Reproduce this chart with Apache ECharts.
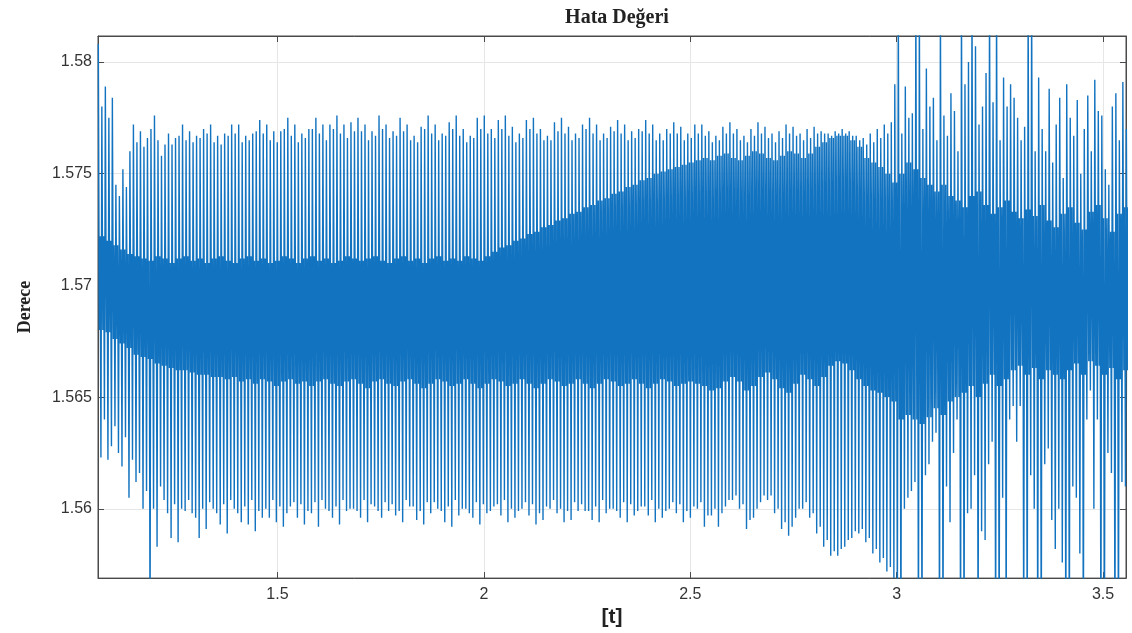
<!DOCTYPE html>
<html lang="tr">
<head>
<meta charset="utf-8"/>
<title>Hata Değeri</title>
<script src="https://cdn.jsdelivr.net/npm/echarts@6/dist/echarts.min.js"></script>
<style>
    html, body { margin: 0; padding: 0; background: #fff; }
    #main { width: 1132px; height: 633px; }
</style>
</head>
<body>
<div id="main"></div>
<script>
// one entry per oscillation cycle
var cycleT = [
    1.066,1.083,1.100,1.117,1.134,1.151,1.168,1.185,1.202,1.219,
    1.236,1.253,1.270,1.287,1.304,1.321,1.338,1.355,1.372,1.389,
    1.406,1.423,1.440,1.457,1.474,1.491,1.508,1.525,1.542,1.559,
    1.576,1.593,1.610,1.627,1.644,1.661,1.678,1.695,1.712,1.729,
    1.746,1.763,1.780,1.797,1.814,1.831,1.848,1.865,1.882,1.899,
    1.916,1.933,1.950,1.967,1.984,2.001,2.018,2.035,2.052,2.069,
    2.086,2.103,2.120,2.137,2.154,2.171,2.188,2.205,2.222,2.239,
    2.256,2.273,2.290,2.307,2.324,2.341,2.358,2.375,2.392,2.409,
    2.426,2.443,2.460,2.477,2.494,2.511,2.528,2.545,2.562,2.579,
    2.596,2.613,2.630,2.647,2.664,2.681,2.698,2.715,2.732,2.749,
    2.766,2.783,2.800,2.817,2.834,2.851,2.868,2.885,2.902,2.919,
    2.936,2.953,2.970,2.987,3.004,3.021,3.038,3.055,3.072,3.089,
    3.106,3.123,3.140,3.157,3.174,3.191,3.208,3.225,3.242,3.259,
    3.276,3.293,3.310,3.327,3.344,3.361,3.378,3.395,3.412,3.429,
    3.446,3.463,3.480,3.497,3.514,3.531,3.548
];
// main (taller) peak of each cycle
var peakVal = [
    1.5808,1.5789,1.5784,1.5740,1.5744,1.5772,1.5769,1.5766,1.5776,1.5758,
    1.5768,1.5766,1.5772,1.5769,1.5767,1.5770,1.5772,1.5767,1.5768,1.5772,
    1.5772,1.5767,1.5768,1.5774,1.5772,1.5769,1.5769,1.5775,1.5772,1.5768,
    1.5770,1.5775,1.5772,1.5772,1.5776,1.5772,1.5773,1.5775,1.5772,1.5769,
    1.5776,1.5772,1.5769,1.5775,1.5772,1.5767,1.5771,1.5776,1.5772,1.5768,
    1.5773,1.5776,1.5770,1.5767,1.5775,1.5776,1.5770,1.5774,1.5776,1.5771,
    1.5768,1.5774,1.5775,1.5770,1.5767,1.5773,1.5775,1.5771,1.5768,1.5772,
    1.5775,1.5772,1.5768,1.5771,1.5774,1.5772,1.5769,1.5770,1.5774,1.5772,
    1.5768,1.5770,1.5773,1.5771,1.5768,1.5772,1.5772,1.5769,1.5767,1.5771,
    1.5773,1.5770,1.5767,1.5770,1.5773,1.5771,1.5768,1.5769,1.5772,1.5771,
    1.5768,1.5770,1.5771,1.5769,1.5768,1.5769,1.5770,1.5769,1.5767,1.5766,
    1.5768,1.5770,1.5772,1.5773,1.5830,1.5789,1.5777,1.5830,1.5797,1.5784,
    1.5830,1.5767,1.5778,1.5830,1.5800,1.5807,1.5780,1.5830,1.5830,1.5793,
    1.5790,1.5775,1.5771,1.5830,1.5793,1.5760,1.5755,1.5784,1.5790,1.5767,
    1.5750,1.5785,1.5792,1.5776,1.5745,1.5786,1.5791
];
// second, usually lower peak half a cycle later
var peak2Val = [
    1.5780,1.5775,1.5745,1.5752,1.5760,1.5764,1.5762,1.5770,1.5765,1.5763,
    1.5763,1.5767,1.5765,1.5764,1.5766,1.5768,1.5764,1.5763,1.5767,1.5768,
    1.5764,1.5765,1.5769,1.5768,1.5765,1.5764,1.5770,1.5767,1.5764,1.5766,
    1.5770,1.5768,1.5765,1.5770,1.5768,1.5766,1.5769,1.5769,1.5765,1.5767,
    1.5770,1.5766,1.5767,1.5769,1.5765,1.5764,1.5770,1.5768,1.5765,1.5767,
    1.5770,1.5767,1.5764,1.5766,1.5770,1.5768,1.5766,1.5770,1.5767,1.5764,
    1.5766,1.5770,1.5768,1.5765,1.5765,1.5769,1.5768,1.5765,1.5766,1.5770,
    1.5768,1.5765,1.5766,1.5769,1.5768,1.5765,1.5766,1.5769,1.5768,1.5765,
    1.5765,1.5768,1.5768,1.5765,1.5766,1.5768,1.5767,1.5764,1.5765,1.5768,
    1.5768,1.5765,1.5764,1.5767,1.5768,1.5766,1.5764,1.5766,1.5768,1.5767,
    1.5765,1.5766,1.5768,1.5768,1.5767,1.5768,1.5768,1.5767,1.5765,1.5763,
    1.5764,1.5766,1.5768,1.5790,1.5768,1.5775,1.5830,1.5770,1.5780,1.5765,
    1.5776,1.5786,1.5760,1.5790,1.5830,1.5772,1.5795,1.5782,1.5765,1.5780,
    1.5784,1.5765,1.5830,1.5760,1.5770,1.5788,1.5772,1.5748,1.5775,1.5783,
    1.5770,1.5760,1.5778,1.5752,1.5780,1.5765,1.5770
];
// lower and upper edge of the dense middle band
var bandLow = [
    1.5680,1.5679,1.5676,1.5674,1.5672,1.5669,1.5668,1.5667,1.5665,1.5664,
    1.5663,1.5662,1.5662,1.5661,1.5660,1.5660,1.5659,1.5659,1.5658,1.5659,
    1.5657,1.5658,1.5656,1.5658,1.5657,1.5655,1.5657,1.5658,1.5656,1.5657,
    1.5655,1.5657,1.5658,1.5656,1.5655,1.5657,1.5658,1.5656,1.5654,1.5657,
    1.5658,1.5656,1.5655,1.5657,1.5658,1.5656,1.5654,1.5656,1.5658,1.5657,
    1.5655,1.5656,1.5658,1.5656,1.5654,1.5656,1.5658,1.5657,1.5655,1.5656,
    1.5658,1.5656,1.5654,1.5656,1.5658,1.5657,1.5655,1.5656,1.5658,1.5656,
    1.5654,1.5656,1.5658,1.5657,1.5655,1.5656,1.5658,1.5656,1.5654,1.5656,
    1.5658,1.5657,1.5655,1.5656,1.5657,1.5656,1.5655,1.5653,1.5654,1.5657,
    1.5659,1.5657,1.5653,1.5655,1.5659,1.5661,1.5658,1.5654,1.5652,1.5656,
    1.5660,1.5658,1.5655,1.5659,1.5664,1.5666,1.5665,1.5662,1.5658,1.5655,
    1.5653,1.5652,1.5650,1.5648,1.5640,1.5642,1.5640,1.5638,1.5641,1.5645,
    1.5642,1.5648,1.5650,1.5652,1.5655,1.5650,1.5656,1.5660,1.5655,1.5658,
    1.5662,1.5664,1.5660,1.5663,1.5658,1.5662,1.5660,1.5658,1.5662,1.5665,
    1.5660,1.5666,1.5664,1.5660,1.5663,1.5658,1.5662
];
var bandHigh = [
    1.5722,1.5720,1.5718,1.5716,1.5714,1.5713,1.5712,1.5711,1.5713,1.5712,
    1.5710,1.5712,1.5713,1.5711,1.5712,1.5710,1.5712,1.5713,1.5711,1.5710,
    1.5712,1.5713,1.5711,1.5712,1.5710,1.5711,1.5713,1.5712,1.5710,1.5712,
    1.5713,1.5711,1.5712,1.5710,1.5711,1.5713,1.5712,1.5711,1.5712,1.5713,
    1.5711,1.5710,1.5712,1.5713,1.5711,1.5712,1.5710,1.5712,1.5713,1.5711,
    1.5712,1.5711,1.5713,1.5712,1.5711,1.5713,1.5715,1.5717,1.5718,1.5720,
    1.5721,1.5723,1.5724,1.5726,1.5727,1.5729,1.5730,1.5732,1.5733,1.5735,
    1.5736,1.5738,1.5739,1.5741,1.5742,1.5744,1.5745,1.5747,1.5748,1.5750,
    1.5751,1.5752,1.5753,1.5754,1.5755,1.5756,1.5757,1.5756,1.5758,1.5759,
    1.5757,1.5756,1.5758,1.5760,1.5759,1.5757,1.5756,1.5758,1.5760,1.5759,
    1.5757,1.5759,1.5762,1.5764,1.5766,1.5767,1.5767,1.5765,1.5762,1.5757,
    1.5755,1.5753,1.5750,1.5746,1.5750,1.5755,1.5752,1.5748,1.5745,1.5742,
    1.5745,1.5740,1.5738,1.5735,1.5740,1.5742,1.5736,1.5732,1.5735,1.5738,
    1.5733,1.5730,1.5734,1.5731,1.5736,1.5729,1.5726,1.5732,1.5735,1.5728,
    1.5725,1.5733,1.5736,1.5730,1.5724,1.5732,1.5735
];
// main (deeper) trough of each cycle
var troughVal = [
    1.5623,1.5622,1.5637,1.5619,1.5605,1.5612,1.5600,1.5540,1.5583,1.5604,
    1.5587,1.5585,1.5599,1.5598,1.5587,1.5591,1.5600,1.5593,1.5589,1.5600,
    1.5594,1.5593,1.5590,1.5596,1.5596,1.5594,1.5592,1.5601,1.5596,1.5593,
    1.5598,1.5592,1.5600,1.5596,1.5593,1.5599,1.5600,1.5596,1.5594,1.5601,
    1.5596,1.5599,1.5597,1.5594,1.5601,1.5595,1.5593,1.5598,1.5600,1.5594,
    1.5592,1.5597,1.5600,1.5596,1.5593,1.5598,1.5601,1.5597,1.5594,1.5596,
    1.5600,1.5597,1.5593,1.5595,1.5600,1.5598,1.5594,1.5595,1.5599,1.5599,
    1.5595,1.5594,1.5598,1.5600,1.5596,1.5594,1.5597,1.5601,1.5597,1.5594,
    1.5596,1.5600,1.5598,1.5594,1.5596,1.5600,1.5592,1.5597,1.5592,1.5601,
    1.5604,1.5600,1.5591,1.5596,1.5603,1.5604,1.5598,1.5591,1.5588,1.5596,
    1.5600,1.5596,1.5589,1.5583,1.5579,1.5579,1.5583,1.5587,1.5589,1.5585,
    1.5580,1.5576,1.5572,1.5569,1.5530,1.5605,1.5612,1.5530,1.5620,1.5634,
    1.5530,1.5594,1.5640,1.5530,1.5600,1.5530,1.5586,1.5630,1.5530,1.5540,
    1.5646,1.5646,1.5530,1.5600,1.5530,1.5627,1.5582,1.5576,1.5530,1.5605,
    1.5530,1.5653,1.5640,1.5530,1.5616,1.5530,1.5610
];
// second, usually shallower trough
var trough2Val = [
    1.5640,1.5628,1.5625,1.5632,1.5622,1.5616,1.5608,1.5600,1.5610,1.5598,
    1.5602,1.5600,1.5604,1.5596,1.5600,1.5603,1.5598,1.5602,1.5604,1.5598,
    1.5601,1.5604,1.5599,1.5600,1.5604,1.5601,1.5598,1.5603,1.5602,1.5599,
    1.5603,1.5604,1.5599,1.5601,1.5604,1.5600,1.5599,1.5604,1.5602,1.5599,
    1.5603,1.5602,1.5599,1.5604,1.5601,1.5599,1.5603,1.5603,1.5599,1.5601,
    1.5604,1.5600,1.5598,1.5603,1.5602,1.5599,1.5602,1.5604,1.5600,1.5599,
    1.5603,1.5602,1.5598,1.5601,1.5604,1.5600,1.5599,1.5603,1.5602,1.5599,
    1.5601,1.5604,1.5600,1.5599,1.5603,1.5602,1.5599,1.5601,1.5604,1.5600,
    1.5599,1.5603,1.5602,1.5599,1.5601,1.5603,1.5597,1.5600,1.5598,1.5604,
    1.5606,1.5602,1.5595,1.5600,1.5606,1.5606,1.5600,1.5594,1.5592,1.5600,
    1.5603,1.5598,1.5592,1.5586,1.5581,1.5582,1.5586,1.5590,1.5591,1.5587,
    1.5582,1.5578,1.5574,1.5560,1.5600,1.5608,1.5530,1.5615,1.5630,1.5530,
    1.5610,1.5625,1.5530,1.5598,1.5615,1.5590,1.5620,1.5530,1.5605,1.5640,
    1.5630,1.5540,1.5615,1.5530,1.5620,1.5595,1.5600,1.5530,1.5610,1.5580,
    1.5640,1.5600,1.5530,1.5625,1.5530,1.5612,1.5600
];

var xTicks = [1.5, 2, 2.5, 3, 3.5];
var yTicks = [1.56, 1.565, 1.57, 1.575, 1.58];

// each cycle: peak, band wiggle, trough, second peak, band wiggle, second trough
var points = [];
for (var i = 0; i < cycleT.length; i++) {
    var t = cycleT[i];
    var next = i + 1 < cycleT.length ? cycleT[i + 1] : t + (t - cycleT[i - 1]);
    var p = next - t;
    points.push([t, peakVal[i]]);
    points.push([t + p * 0.14, bandLow[i]]);
    points.push([t + p * 0.25, bandHigh[i]]);
    points.push([t + p * 0.37, troughVal[i]]);
    points.push([t + p * 0.5, peak2Val[i]]);
    points.push([t + p * 0.64, bandLow[i]]);
    points.push([t + p * 0.75, bandHigh[i]]);
    points.push([t + p * 0.87, trough2Val[i]]);
}

function onlyTicks(list) {
    return function (v) {
        for (var k = 0; k < list.length; k++) {
            if (Math.abs(v - list[k]) < 1e-7) return String(list[k]);
        }
        return '';
    };
}

var axisColor = '#4a4a4a';
var labelStyle = { color: '#333', fontSize: 16, fontFamily: 'Liberation Sans, Arial, sans-serif' };

var chart = echarts.init(document.getElementById('main'));
chart.setOption({
    animation: false,
    backgroundColor: '#fff',
    title: {
        text: 'Hata Değeri',
        left: 612,
        top: 3,
        textAlign: 'center',
        textStyle: { fontFamily: 'Liberation Serif, Times New Roman, serif', fontWeight: 'bold', fontSize: 20, color: '#222' }
    },
    grid: { left: 98, right: 6, top: 36, bottom: 46, show: true, borderColor: axisColor, borderWidth: 1, backgroundColor: 'transparent' },
    xAxis: [{
        type: 'value',
        min: 1.0652,
        max: 3.5556,
        splitNumber: 5,
        name: '[t]',
        nameLocation: 'middle',
        nameGap: 16,
        nameTextStyle: { fontFamily: 'Liberation Sans, Arial, sans-serif', fontWeight: 'bold', fontSize: 21, color: '#222' },
        axisLine: { show: true, lineStyle: { color: axisColor } },
        axisTick: { show: true, inside: true, length: 6, lineStyle: { color: axisColor } },
        axisLabel: Object.assign({ margin: 8, formatter: onlyTicks(xTicks) }, labelStyle),
        splitLine: { show: true, lineStyle: { color: '#e6e6e6' } }
    }, {
        type: 'value',
        position: 'top',
        min: 1.0652,
        max: 3.5556,
        splitNumber: 5,
        axisLine: { show: true, lineStyle: { color: axisColor } },
        axisTick: { show: true, inside: true, length: 6, lineStyle: { color: axisColor } },
        axisLabel: { show: false },
        splitLine: { show: false }
    }],
    yAxis: [{
        type: 'value',
        min: 1.5569,
        max: 1.58116,
        splitNumber: 5,
        name: 'Derece',
        nameLocation: 'middle',
        nameGap: 64,
        nameTextStyle: { fontFamily: 'Liberation Serif, Times New Roman, serif', fontWeight: 'bold', fontSize: 18, color: '#222' },
        axisLine: { show: true, lineStyle: { color: axisColor } },
        axisTick: { show: true, inside: true, length: 6, lineStyle: { color: axisColor } },
        axisLabel: Object.assign({ margin: 6, formatter: onlyTicks(yTicks) }, labelStyle),
        splitLine: { show: true, lineStyle: { color: '#e6e6e6' } }
    }, {
        type: 'value',
        position: 'right',
        min: 1.5569,
        max: 1.58116,
        splitNumber: 5,
        axisLine: { show: true, lineStyle: { color: axisColor } },
        axisTick: { show: true, inside: true, length: 6, lineStyle: { color: axisColor } },
        axisLabel: { show: false },
        splitLine: { show: false }
    }],
    series: [{
        type: 'line',
        data: points,
        xAxisIndex: 0,
        yAxisIndex: 0,
        showSymbol: false,
        symbol: 'none',
        clip: true,
        silent: true,
        lineStyle: { color: '#1273c0', width: 1.4 }
    }]
});
</script>
</body>
</html>
